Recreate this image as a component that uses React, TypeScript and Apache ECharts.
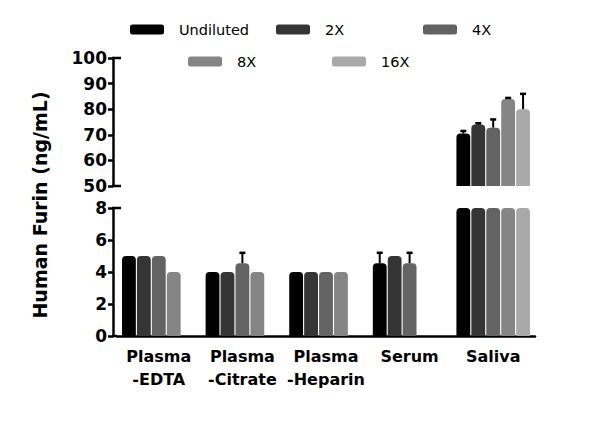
import React, { useEffect, useRef } from "react";
import * as echarts from "echarts";

const categories = ["Plasma\n-EDTA", "Plasma\n-Citrate", "Plasma\n-Heparin", "Serum", "Saliva"];
const seriesNames = ["Undiluted", "2X", "4X", "8X", "16X"];
const seriesColors = ["#000000", "#353535", "#636363", "#858585", "#a9a9a9"];

// means
const undiluted = [5, 4, 4, 4.55, 70.5];
const x2 = [5, 4, 4, 5, 74];
const x4 = [5, 4.55, 4, 4.55, 72.8];
const x8 = [4, 4, 4, null, 84];
const x16 = [null, null, null, null, 80];
// mean + SD (null = no error bar drawn)
const undilutedHigh = [null, null, null, 5.2, 71.5];
const x2High = [null, null, null, null, 74.5];
const x4High = [null, 5.2, null, 5.2, 76];
const x8High = [null, null, null, null, 84.4];
const x16High = [null, null, null, null, 86];

const lowerTicks = [0, 2, 4, 6, 8];
const upperTicks = [50, 60, 70, 80, 90, 100];

const FONT = "DejaVu Sans";

export default function App() {
  const ref = useRef<HTMLDivElement>(null);
  useEffect(() => {
    document.body.style.margin = "0";
    const chart = echarts.init(ref.current!, null, { renderer: "svg" });
    const means = [undiluted, x2, x4, x8, x16];
    const highs = [undilutedHigh, x2High, x4High, x8High, x16High];
    const n = seriesNames.length;
    const catGap = 0.12;
    const barGap = 0.08;

    const renderErr = (params: any, api: any) => {
      const cat = api.value(0);
      const s = api.value(1);
      const mean = api.value(2);
      const hi = api.value(3);
      const band = api.size([1, 0])[0];
      const avail = band * (1 - catGap);
      const bw = avail / (n + (n - 1) * barGap);
      const off = -avail / 2 + s * bw * (1 + barGap) + bw / 2;
      const p0 = api.coord([cat, mean]);
      const p1 = api.coord([cat, hi]);
      const x = p0[0] + off;
      return {
        type: "group",
        children: [
          { type: "line", shape: { x1: x, y1: p0[1], x2: x, y2: p1[1] }, style: { stroke: "#000", lineWidth: 2 } },
          { type: "line", shape: { x1: x - 3, y1: p1[1], x2: x + 3, y2: p1[1] }, style: { stroke: "#000", lineWidth: 2.5 } },
        ],
      };
    };

    const errData = (upper: boolean) => {
      const out: any[] = [];
      highs.forEach((arr, s) =>
        arr.forEach((h, c) => {
          const m = means[s][c];
          if (h == null || m == null) return;
          if (upper ? m >= lowerTicks[lowerTicks.length - 1] && h >= upperTicks[0] : h <= lowerTicks[lowerTicks.length - 1]) {
            out.push([c, s, m, h]);
          }
        })
      );
      return out;
    };

    const barCommon = (s: number) => ({
      type: "bar",
      name: seriesNames[s],
      barCategoryGap: "12%",
      barGap: "8%",
      itemStyle: { color: seriesColors[s], borderRadius: [4, 4, 0, 0] },
      clip: true,
      silent: true,
    });

    const series: any[] = [];
    seriesNames.forEach((_, s) => {
      series.push({
        ...barCommon(s),
        xAxisIndex: 0,
        yAxisIndex: 0,
        data: means[s].map((v) => (v != null && v >= upperTicks[0] ? v : null)),
      });
    });
    seriesNames.forEach((_, s) => {
      series.push({
        ...barCommon(s),
        xAxisIndex: 1,
        yAxisIndex: 1,
        data: means[s],
      });
    });
    series.push({
      type: "custom",
      xAxisIndex: 0,
      yAxisIndex: 0,
      renderItem: renderErr,
      encode: { x: 0, y: [2, 3] },
      data: errData(true),
      z: 5,
      silent: true,
    });
    series.push({
      type: "custom",
      xAxisIndex: 1,
      yAxisIndex: 1,
      renderItem: renderErr,
      encode: { x: 0, y: [2, 3] },
      data: errData(false),
      z: 5,
      silent: true,
    });

    const legendPos = [
      { left: 125, top: 17 },
      { left: 271, top: 17 },
      { left: 418, top: 17 },
      { left: 183, top: 49 },
      { left: 327, top: 49 },
    ];
    const legends = seriesNames.map((name, i) => ({
      data: [name],
      ...legendPos[i],
      icon: "roundRect",
      itemWidth: 34,
      itemHeight: 10,
      selectedMode: false,
      textStyle: { fontFamily: FONT, fontSize: 14.5, color: "#000", padding: [0, 0, 0, 10] },
    }));

    const axisLineStyle = { color: "#000", width: 2.5 };
    const yLabel = { fontFamily: FONT, fontWeight: "bold", fontSize: 17, color: "#000", margin: 6 };

    const ax0 = 113;
    const gridLeft = 117;
    const gridW = 418;
    const upTop = 58;
    const upH = 128;
    const loTop = 208;
    const loH = 128;

    chart.setOption({
      animation: false,
      legend: legends,
      grid: [
        { left: gridLeft, top: upTop, width: gridW, height: upH },
        { left: gridLeft, top: loTop, width: gridW, height: loH },
      ],
      xAxis: [
        { type: "category", gridIndex: 0, data: categories, show: false },
        {
          type: "category",
          gridIndex: 1,
          data: categories,
          axisLine: { lineStyle: axisLineStyle },
          axisTick: { alignWithLabel: true, length: 6, lineStyle: { width: 2.5, color: "#000" } },
          axisLabel: {
            interval: 0,
            fontFamily: FONT,
            fontWeight: "bold",
            fontSize: 16,
            color: "#000",
            lineHeight: 23,
            margin: 9,
            align: "center",
          },
        },
      ],
      yAxis: [
        {
          type: "value",
          gridIndex: 0,
          min: upperTicks[0],
          max: upperTicks[upperTicks.length - 1],
          interval: 10,
          offset: gridLeft - ax0,
          splitLine: { show: false },
          axisLine: { show: true, lineStyle: axisLineStyle },
          axisTick: { show: true, length: 5, lineStyle: { width: 2.5, color: "#000" } },
          axisLabel: yLabel,
        },
        {
          type: "value",
          gridIndex: 1,
          min: lowerTicks[0],
          max: lowerTicks[lowerTicks.length - 1],
          interval: 2,
          offset: gridLeft - ax0,
          splitLine: { show: false },
          axisLine: { show: true, lineStyle: axisLineStyle },
          axisTick: { show: true, length: 5, lineStyle: { width: 2.5, color: "#000" } },
          axisLabel: yLabel,
        },
      ],
      graphic: [
        {
          type: "text",
          x: 40,
          y: 205,
          rotation: Math.PI / 2,
          style: {
            text: "Human Furin (ng/mL)",
            font: `bold 19px "${FONT}"`,
            fill: "#000",
            textAlign: "center",
            textVerticalAlign: "middle",
          },
        },
        { type: "line", shape: { x1: ax0 - 1, y1: upTop, x2: ax0 + 8, y2: upTop }, style: { stroke: "#000", lineWidth: 2.5 } },
        { type: "line", shape: { x1: ax0 - 1, y1: upTop + upH, x2: ax0 + 8, y2: upTop + upH }, style: { stroke: "#000", lineWidth: 2.5 } },
        { type: "line", shape: { x1: ax0 - 1, y1: loTop, x2: ax0 + 8, y2: loTop }, style: { stroke: "#000", lineWidth: 2.5 } },
        { type: "line", shape: { x1: ax0 - 1, y1: loTop + loH, x2: gridLeft, y2: loTop + loH }, style: { stroke: "#000", lineWidth: 2.5 } },
      ],
      series,
    });
    return () => chart.dispose();
  }, []);
  return <div ref={ref} style={{ width: 600, height: 426 }} />;
}
